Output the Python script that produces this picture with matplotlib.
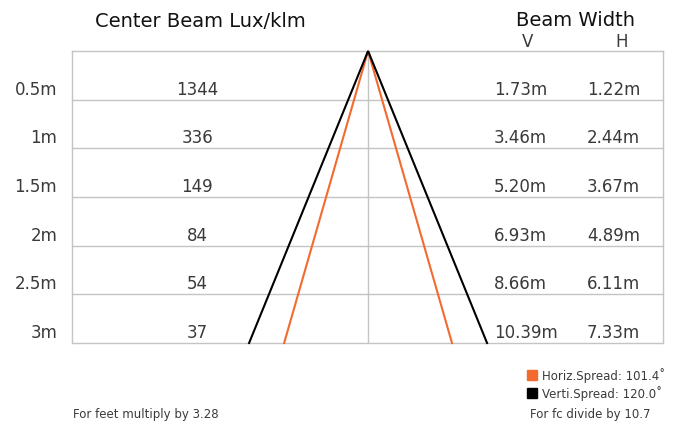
import numpy as np
import matplotlib.pyplot as plt
from matplotlib.lines import Line2D

# Photometric table
distances = [0.5, 1, 1.5, 2, 2.5, 3]
dist_labels = ["0.5m", "1m", "1.5m", "2m", "2.5m", "3m"]
lux_per_klm = [1344, 336, 149, 84, 54, 37]
width_v = ["1.73m", "3.46m", "5.20m", "6.93m", "8.66m", "10.39m"]
width_h = ["1.22m", "2.44m", "3.67m", "4.89m", "6.11m", "7.33m"]
spread_h = 101.4
spread_v = 120.0

grid_col = "#c4c4c4"
text_col = "#3a3a3a"
orange = "#f26a2e"

plt.rcParams['font.family'] = ['DejaVu Sans']

fig = plt.figure(figsize=(6.77, 4.27), dpi=100)
ax = fig.add_axes([72 / 677, 83 / 427, 591 / 677, 292 / 427])

max_dist = max(distances)
ax.set_ylim(max_dist, 0)
ax.set_xlim(-12.93, 12.88)

# horizontal rules at each distance plus the top edge
for d in [0] + distances:
    ax.axhline(d, color=grid_col, lw=1.0, zorder=1, clip_on=False)
ax.plot([0, 0], [0, max_dist], color=grid_col, lw=1.0, zorder=1)

for s in ["top", "bottom"]:
    ax.spines[s].set_visible(False)
for s in ["left", "right"]:
    ax.spines[s].set_color(grid_col)
    ax.spines[s].set_linewidth(1.0)
ax.set_xticks([])
ax.set_yticks([])

# beam cones, half width from the spread angle
for spread, col in [(spread_h, orange), (spread_v, "black")]:
    hw = max_dist * np.tan(np.radians(spread / 2))
    ax.plot([-hw, 0, hw], [max_dist, 0, max_dist], color=col, lw=1.5,
            solid_joinstyle="miter", zorder=3, clip_on=False)

# table text
tr = ax.get_yaxis_transform()
for d, lab, lx, v, h in zip(distances, dist_labels, lux_per_klm, width_v, width_h):
    y = d - 0.06
    ax.text(-0.025, y, lab, transform=tr, ha="right", va="baseline",
            fontsize=12, color=text_col, clip_on=False)
    ax.text(0.212, y, str(lx), transform=tr, ha="center", va="baseline",
            fontsize=12, color=text_col)
    ax.text(0.714, y, v, transform=tr, ha="left", va="baseline",
            fontsize=12, color=text_col)
    ax.text(0.871, y, h, transform=tr, ha="left", va="baseline",
            fontsize=12, color=text_col)

# headers
fig.text(200 / 677, 1 - 27 / 427, "Center Beam Lux/klm", ha="center",
         va="baseline", fontsize=14, color="#111111")
fig.text(575 / 677, 1 - 26 / 427, "Beam Width", ha="center",
         va="baseline", fontsize=14, color="#111111")
fig.text(528 / 677, 1 - 47 / 427, "V", ha="center", va="baseline",
         fontsize=12, color=text_col)
fig.text(622 / 677, 1 - 47 / 427, "H", ha="center", va="baseline",
         fontsize=12, color=text_col)

# legend
handles = [
    Line2D([], [], marker="s", ls="none", color=orange, markersize=7),
    Line2D([], [], marker="s", ls="none", color="black", markersize=7),
]
labels = [f"Horiz.Spread: {spread_h:.1f}˚", f"Verti.Spread: {spread_v:.1f}˚"]
fig.legend(handles, labels, loc="upper left", bbox_to_anchor=(521 / 677, 1 - 362 / 427),
           frameon=False, fontsize=8.5, handlelength=0.8, handletextpad=0.45,
           labelspacing=0.3, borderpad=0, labelcolor=text_col)

fig.text(530 / 677, 1 - 418 / 427, "For fc divide by 10.7", ha="left",
         va="baseline", fontsize=8.5, color=text_col)
fig.text(73 / 677, 1 - 418 / 427, "For feet multiply by 3.28", ha="left",
         va="baseline", fontsize=8.5, color=text_col)

fig.savefig("out.png", dpi=100, facecolor="white")
